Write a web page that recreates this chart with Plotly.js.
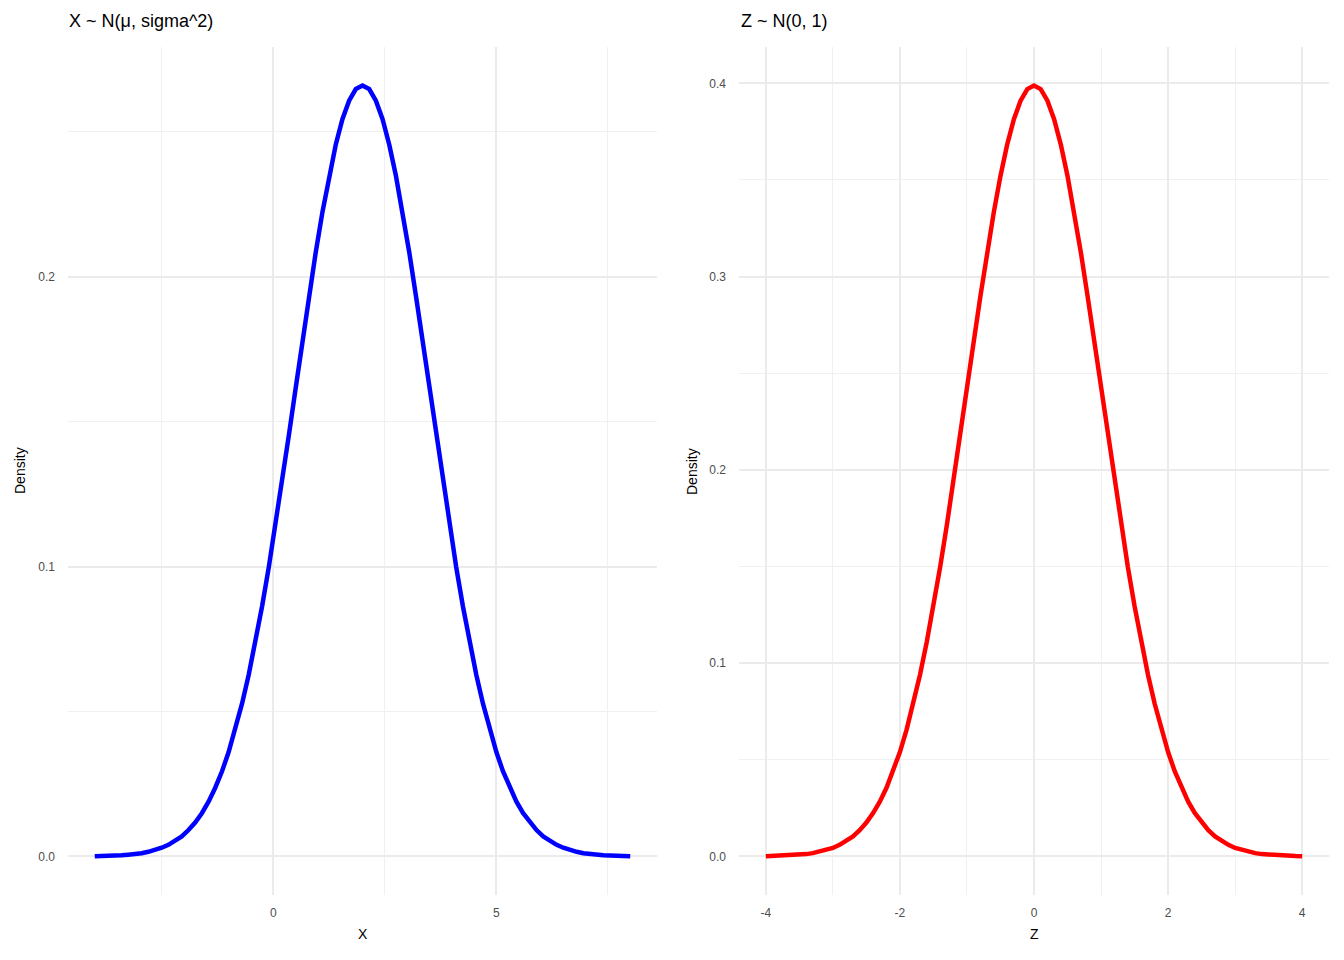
<!DOCTYPE html>
<html>
<head>
<meta charset="utf-8">
<script src="https://cdn.plot.ly/plotly-3.0.1.min.js"></script>
<style>html,body{margin:0;padding:0;background:#fff;}#chart{width:1344px;height:960px;}</style>
</head>
<body>
<div id="chart"></div>
<script>
// Left panel: X ~ N(mu, sigma^2)
const xLeft = [-4,-3.85,-3.7,-3.55,-3.4,-3.25,-3.1,-2.95,-2.8,-2.65,-2.5,-2.35,-2.2,-2.05,-1.9,-1.75,-1.6,-1.45,-1.3,-1.15,-1,-0.85,-0.7,-0.55,-0.4,-0.25,-0.1,0.05,0.2,0.35,0.5,0.65,0.8,0.95,1.1,1.25,1.4,1.55,1.7,1.85,2,2.15,2.3,2.45,2.6,2.75,2.9,3.05,3.2,3.35,3.5,3.65,3.8,3.95,4.1,4.25,4.4,4.55,4.7,4.85,5,5.15,5.3,5.45,5.6,5.75,5.9,6.05,6.2,6.35,6.5,6.65,6.8,6.95,7.1,7.25,7.4,7.55,7.7,7.85,8];
const densLeft = [0.0001,0.0001,0.0002,0.0003,0.0004,0.0006,0.0008,0.0011,0.0016,0.0022,0.0030,0.0040,0.0053,0.0069,0.0091,0.0117,0.0149,0.0189,0.0237,0.0293,0.0360,0.0437,0.0527,0.0627,0.0739,0.0863,0.0998,0.1143,0.1295,0.1453,0.1613,0.1774,0.1931,0.2082,0.2221,0.2347,0.2455,0.2543,0.2607,0.2647,0.2659,0.2647,0.2607,0.2543,0.2455,0.2347,0.2221,0.2082,0.1931,0.1774,0.1613,0.1453,0.1295,0.1143,0.0998,0.0863,0.0739,0.0627,0.0527,0.0437,0.0360,0.0293,0.0237,0.0189,0.0149,0.0117,0.0091,0.0069,0.0053,0.0040,0.0030,0.0022,0.0016,0.0011,0.0008,0.0006,0.0004,0.0003,0.0002,0.0001,0.0001];
const xTicksLeft = [0, 5];
const xTickTextLeft = ["0", "5"];
const yTicksLeft = [0, 0.1, 0.2];
const yTickTextLeft = ["0.0", "0.1", "0.2"];

// Right panel: Z ~ N(0, 1)
const zRight = [-4,-3.9,-3.8,-3.7,-3.6,-3.5,-3.4,-3.3,-3.2,-3.1,-3,-2.9,-2.8,-2.7,-2.6,-2.5,-2.4,-2.3,-2.2,-2.1,-2,-1.9,-1.8,-1.7,-1.6,-1.5,-1.4,-1.3,-1.2,-1.1,-1,-0.9,-0.8,-0.7,-0.6,-0.5,-0.4,-0.3,-0.2,-0.1,0,0.1,0.2,0.3,0.4,0.5,0.6,0.7,0.8,0.9,1,1.1,1.2,1.3,1.4,1.5,1.6,1.7,1.8,1.9,2,2.1,2.2,2.3,2.4,2.5,2.6,2.7,2.8,2.9,3,3.1,3.2,3.3,3.4,3.5,3.6,3.7,3.8,3.9,4];
const densRight = [0.0001,0.0002,0.0003,0.0004,0.0006,0.0009,0.0012,0.0017,0.0024,0.0033,0.0044,0.0060,0.0079,0.0104,0.0136,0.0175,0.0224,0.0283,0.0355,0.0440,0.0540,0.0656,0.0790,0.0940,0.1109,0.1295,0.1497,0.1714,0.1942,0.2179,0.2420,0.2661,0.2897,0.3123,0.3332,0.3521,0.3683,0.3814,0.3910,0.3970,0.3989,0.3970,0.3910,0.3814,0.3683,0.3521,0.3332,0.3123,0.2897,0.2661,0.2420,0.2179,0.1942,0.1714,0.1497,0.1295,0.1109,0.0940,0.0790,0.0656,0.0540,0.0440,0.0355,0.0283,0.0224,0.0175,0.0136,0.0104,0.0079,0.0060,0.0044,0.0033,0.0024,0.0017,0.0012,0.0009,0.0006,0.0004,0.0003,0.0002,0.0001];
const xTicksRight = [-4, -2, 0, 2, 4];
const xTickTextRight = ["-4", "-2", "0", "2", "4"];
const yTicksRight = [0, 0.1, 0.2, 0.3, 0.4];
const yTickTextRight = ["0.0", "0.1", "0.2", "0.3", "0.4"];

const titleLeft = "X ~ N(μ, sigma^2)";
const titleRight = "Z ~ N(0, 1)";
const xLabelLeft = "X";
const xLabelRight = "Z";
const yLabel = "Density";

const FONT = "Liberation Sans, Arial, sans-serif";
const W = 1344, H = 960;
const px = v => v / W;
const py = v => 1 - v / H;

const traces = [
  {x: xLeft, y: densLeft, type: 'scatter', mode: 'lines', line: {color: '#0000FF', width: 4.5}, xaxis: 'x', yaxis: 'y', hoverinfo: 'skip'},
  {x: zRight, y: densRight, type: 'scatter', mode: 'lines', line: {color: '#FF0000', width: 4.5}, xaxis: 'x2', yaxis: 'y2', hoverinfo: 'skip'}
];

const gridMajor = '#EBEBEB';
const gridMinor = '#F0F0F0';
function axis(extra) {
  return Object.assign({
    showline: false, zeroline: false, ticks: '', showgrid: true,
    gridcolor: gridMajor, gridwidth: 2,
    tickfont: {family: FONT, size: 12, color: '#4D4D4D'},
    fixedrange: true, tickmode: 'array'
  }, extra);
}
function minor(d) {
  return {tick0: 0, dtick: d, showgrid: true, gridcolor: gridMinor, gridwidth: 1, ticks: ''};
}

const layout = {
  width: W, height: H,
  paper_bgcolor: '#fff', plot_bgcolor: '#fff',
  margin: {l: 0, r: 0, t: 0, b: 0},
  showlegend: false,
  xaxis: axis({domain: [px(68), px(657)], range: [-4.6, 8.6], tickvals: xTicksLeft, ticktext: xTickTextLeft, ticklabelstandoff: 9,
    minor: minor(2.5), anchor: 'y'}),
  yaxis: axis({domain: [py(895), py(47)], range: [-0.0133, 0.2792], tickvals: yTicksLeft, ticktext: yTickTextLeft, ticklabelstandoff: 12,
    minor: minor(0.05), anchor: 'x'}),
  xaxis2: axis({domain: [px(739), px(1329)], range: [-4.4, 4.4], tickvals: xTicksRight, ticktext: xTickTextRight, ticklabelstandoff: 9,
    minor: minor(1), anchor: 'y2'}),
  yaxis2: axis({domain: [py(895), py(47)], range: [-0.01995, 0.4188], tickvals: yTicksRight, ticktext: yTickTextRight, ticklabelstandoff: 12,
    minor: minor(0.05), anchor: 'x2'}),
  annotations: [
    {text: titleLeft, xref: 'paper', yref: 'paper', x: px(67), y: py(21), xanchor: 'left', yanchor: 'middle', showarrow: false, font: {family: FONT, size: 18, color: '#000'}},
    {text: titleRight, xref: 'paper', yref: 'paper', x: px(739), y: py(21), xanchor: 'left', yanchor: 'middle', showarrow: false, font: {family: FONT, size: 18, color: '#000'}},
    {text: xLabelLeft, xref: 'paper', yref: 'paper', x: px(363), y: py(934), xanchor: 'center', yanchor: 'middle', showarrow: false, font: {family: FONT, size: 14, color: '#000'}},
    {text: xLabelRight, xref: 'paper', yref: 'paper', x: px(1034), y: py(934), xanchor: 'center', yanchor: 'middle', showarrow: false, font: {family: FONT, size: 14, color: '#000'}},
    {text: yLabel, xref: 'paper', yref: 'paper', x: px(20), y: py(471), xanchor: 'center', yanchor: 'middle', textangle: -90, showarrow: false, font: {family: FONT, size: 14, color: '#000'}},
    {text: yLabel, xref: 'paper', yref: 'paper', x: px(692), y: py(471), xanchor: 'center', yanchor: 'middle', textangle: -90, showarrow: false, font: {family: FONT, size: 14, color: '#000'}}
  ]
};

Plotly.newPlot('chart', traces, layout, {displayModeBar: false, staticPlot: true});
</script>
</body>
</html>
